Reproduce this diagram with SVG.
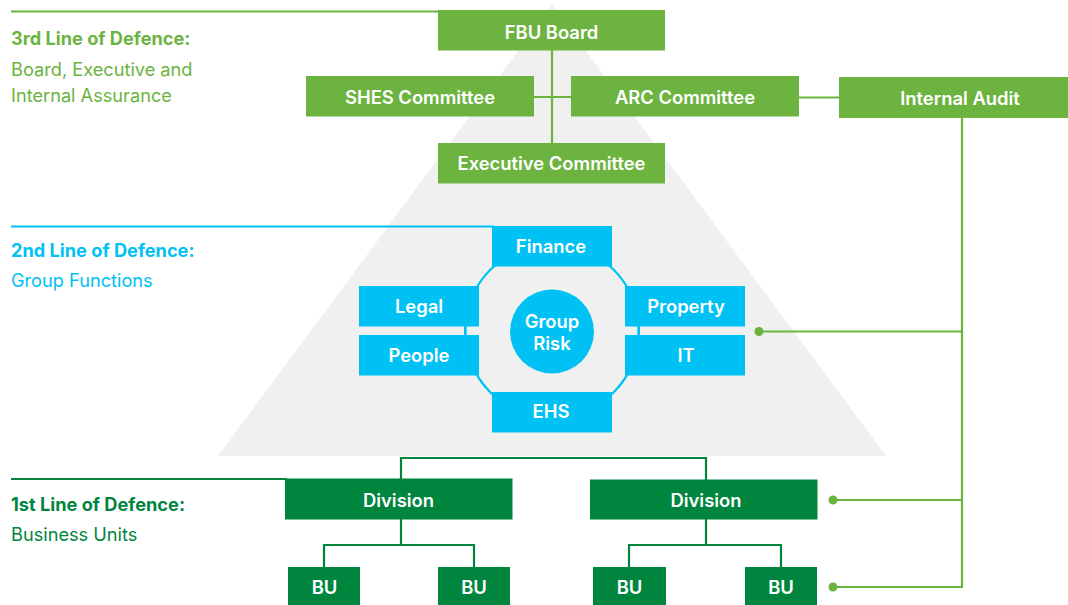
<svg xmlns="http://www.w3.org/2000/svg" width="1068" height="605" viewBox="0 0 1068 605">
<style>
.lg{fill:#6cb33f}
.bl{fill:#00c1f3}
.dg{fill:#00853e}
.t{font-family:Inter,"Liberation Sans",sans-serif;font-size:18.4px;font-weight:600;fill:#ffffff;text-anchor:middle}
.h{font-family:Inter,"Liberation Sans",sans-serif;font-size:18.2px;font-weight:700}
.s{font-family:Inter,"Liberation Sans",sans-serif;font-size:18.2px;font-weight:400}
.cl{stroke:#6cb33f;stroke-width:2.2;fill:none}
.cb{stroke:#00c1f3;stroke-width:2.2;fill:none}
.cd{stroke:#00853e;stroke-width:2.2;fill:none}
</style>
<rect width="1068" height="605" fill="#ffffff"/>
<polygon points="552,5 886,456 218,456" fill="#f0f0f0"/>
<g id="labels">
<text class="h lg" x="11" y="45">3rd Line of Defence:</text>
<text class="s lg" x="11" y="76">Board, Executive and</text>
<text class="s lg" x="11" y="102">Internal Assurance</text>
<text class="h bl" x="11" y="257">2nd Line of Defence:</text>
<text class="s bl" x="11" y="287">Group Functions</text>
<text class="h dg" x="11" y="511">1st Line of Defence:</text>
<text class="s dg" x="11" y="541">Business Units</text>
</g>
<g id="connectors">
<line class="cl" x1="11" y1="11.5" x2="440" y2="11.5"/>
<line class="cb" x1="11" y1="226.5" x2="494" y2="226.5"/>
<line class="cd" x1="11" y1="479" x2="287" y2="479"/>
<line class="cl" x1="552" y1="50" x2="552" y2="144"/>
<line class="cl" x1="533" y1="97" x2="572" y2="97"/>
<line class="cl" x1="798" y1="97.5" x2="840" y2="97.5"/>
<polyline class="cl" points="962,117 962,587 833,587"/>
<line class="cl" x1="759" y1="331.5" x2="962" y2="331.5"/>
<line class="cl" x1="833" y1="500" x2="962" y2="500"/>
<circle class="lg" cx="759" cy="331.5" r="4.5"/>
<circle class="lg" cx="833" cy="500" r="4.5"/>
<circle class="lg" cx="833" cy="587" r="4.5"/>
<circle class="cb" cx="552" cy="331" r="87"/>
<line class="cb" x1="465.5" y1="326" x2="465.5" y2="336"/>
<line class="cb" x1="638.5" y1="326" x2="638.5" y2="336"/>
<polyline class="cd" points="401,480 401,458 706,458 706,480"/>
<line class="cd" x1="401" y1="519" x2="401" y2="545"/>
<polyline class="cd" points="324,568 324,545 474,545 474,568"/>
<line class="cd" x1="706" y1="519" x2="706" y2="545"/>
<polyline class="cd" points="629,568 629,545 781,545 781,568"/>
</g>
<g id="fbu-board"><rect class="lg" x="438" y="10" width="227" height="40.5"/><text class="t" x="551.5" y="39">FBU Board</text></g>
<g id="shes-committee"><rect class="lg" x="306" y="76" width="228" height="40.5"/><text class="t" x="420" y="104">SHES Committee</text></g>
<g id="arc-committee"><rect class="lg" x="571" y="76" width="228" height="40.5"/><text class="t" x="685" y="104">ARC Committee</text></g>
<g id="internal-audit"><rect class="lg" x="839" y="77" width="229" height="41"/><text class="t" x="960" y="104.5">Internal Audit</text></g>
<g id="executive-committee"><rect class="lg" x="438" y="143" width="227" height="40.5"/><text class="t" x="551.5" y="170">Executive Committee</text></g>
<g id="finance"><rect class="bl" x="492" y="226" width="120" height="40.5"/><text class="t" x="551" y="253">Finance</text></g>
<g id="legal"><rect class="bl" x="359" y="286" width="120" height="40.5"/><text class="t" x="419" y="313">Legal</text></g>
<g id="people"><rect class="bl" x="359" y="335" width="120" height="40.5"/><text class="t" x="419" y="361.5">People</text></g>
<g id="property"><rect class="bl" x="625" y="286" width="120" height="40.5"/><text class="t" x="686" y="313">Property</text></g>
<g id="it"><rect class="bl" x="625" y="335" width="120" height="40.5"/><text class="t" x="686" y="361.5">IT</text></g>
<g id="ehs"><rect class="bl" x="492" y="392" width="120" height="40.5"/><text class="t" x="551" y="418">EHS</text></g>
<g id="group-risk"><circle class="bl" cx="552" cy="331.5" r="42"/><text class="t" x="552" y="328">Group</text><text class="t" x="552" y="350">Risk</text></g>
<g id="division-1"><rect class="dg" x="285" y="478.5" width="227.5" height="41"/><text class="t" x="398.5" y="507">Division</text></g>
<g id="division-2"><rect class="dg" x="590" y="479.5" width="227.5" height="40"/><text class="t" x="706" y="507">Division</text></g>
<g id="bu-1"><rect class="dg" x="288" y="567" width="72" height="38"/><text class="t" x="324.5" y="594">BU</text></g>
<g id="bu-2"><rect class="dg" x="438" y="567" width="72" height="38"/><text class="t" x="474" y="594">BU</text></g>
<g id="bu-3"><rect class="dg" x="593" y="567" width="73" height="38"/><text class="t" x="629.5" y="594">BU</text></g>
<g id="bu-4"><rect class="dg" x="745" y="567" width="72" height="38"/><text class="t" x="781" y="594">BU</text></g>
</svg>
